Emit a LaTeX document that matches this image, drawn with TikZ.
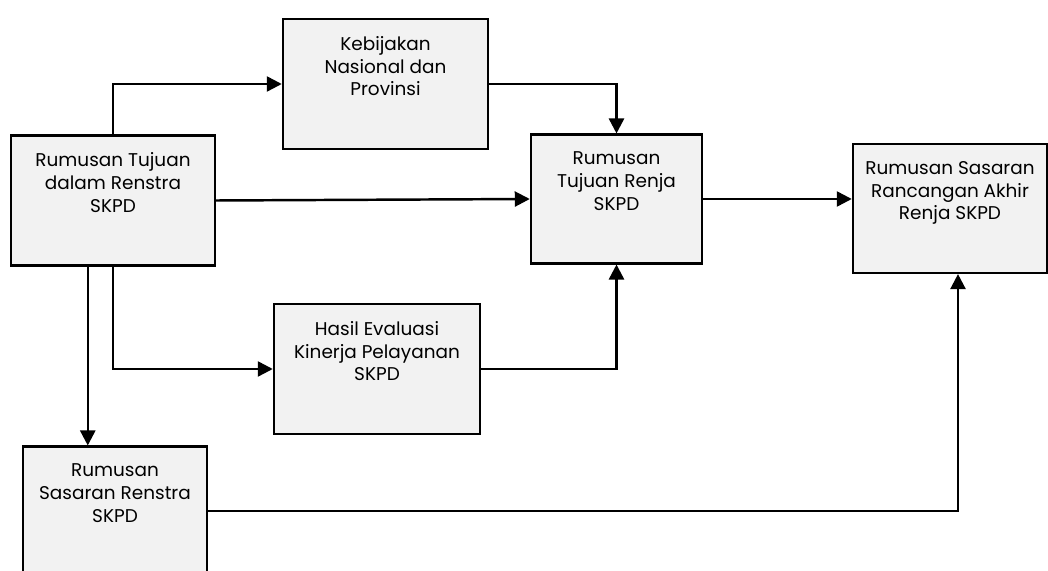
\documentclass[tikz,border=0pt]{standalone}
\usepackage{fontspec}
\setmainfont{Poppins}
\usepackage{xcolor}
\usepackage{tikz}
\usetikzlibrary{calc}
\usetikzlibrary{positioning,arrows.meta}
\definecolor{isigray}{HTML}{F2F2F2}
\tikzset{
	blok/.style={draw,fill=isigray,line width=1.4pt,align=center,inner xsep=2pt,inner ysep=0.34cm,text depth=0.72cm,font=\fontsize{10.5}{13}\selectfont},
	panah/.style={line width=1.4pt,-{Triangle[length=0.3cm,width=0.3cm]}}
}
\begin{document}
\begin{tikzpicture}[transform shape,scale=1]
		\useasboundingbox (0,0) rectangle (20.96,11.4);
		\clip (0,0) rectangle (20.96,11.4);
		\node[blok,minimum width=4.08cm] (tujuan) at (2.26,7.39) {Rumusan Tujuan\\dalam Renstra\\SKPD};
		\node[blok,minimum width=4.10cm] (kebijakan) at (7.71,9.72) {Kebijakan\\Nasional dan\\Provinsi};
		\node[blok,minimum width=3.42cm] (renja) at (12.33,7.42) {Rumusan\\Tujuan Renja\\SKPD};
		\node[blok,minimum width=3.88cm] (akhir) at (19.0,7.23) {Rumusan Sasaran\\Rancangan Akhir\\Renja SKPD};
		\node[blok,minimum width=4.12cm] (evaluasi) at (7.54,4.02) {Hasil Evaluasi\\Kinerja Pelayanan\\SKPD};
		\node[blok,minimum width=3.68cm] (sasaran) at (2.3,1.18) {Rumusan\\Sasaran Renstra\\SKPD};
		\draw[panah] (tujuan.north) |- (kebijakan.west);
		\draw[panah] (kebijakan.east) -| (renja.north);
		\draw[panah] (tujuan.east) -- (renja.west);
		\draw[panah] (renja.east) -- (renja.east -| akhir.west);
		\draw[panah] (tujuan.south) |- (evaluasi.west);
		\draw[panah] (evaluasi.east) -| (renja.south);
		\draw[panah] ($(tujuan.south west)+(1.56,0)$) coordinate (turun) -- (turun |- sasaran.north);
		\draw[panah] (sasaran.east) -| ($(akhir.south)+(0.16,0)$);
	\end{tikzpicture}
\end{document}
